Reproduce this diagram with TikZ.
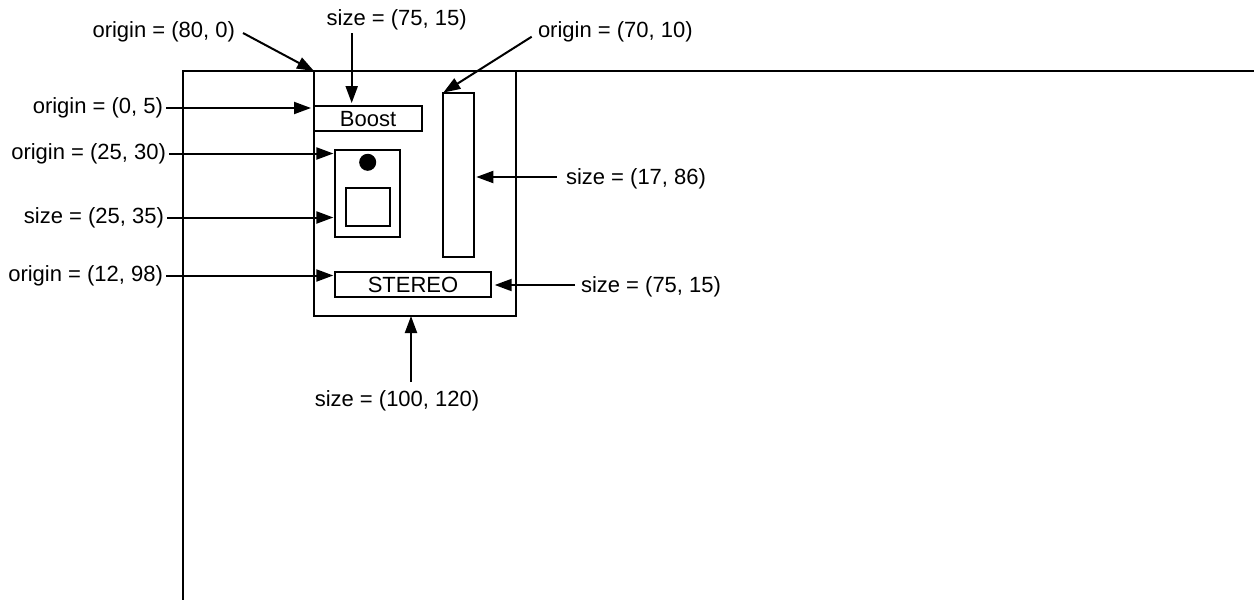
\documentclass[tikz,border=0pt]{standalone}
\usepackage{fontspec}
\setmainfont{Liberation Sans}
\usetikzlibrary{arrows.meta}
\begin{document}
\begin{tikzpicture}[x=0.5pt,y=-0.5pt,line width=1pt,
  box/.style={draw,rectangle,inner sep=0pt,outer sep=0pt,font=\fontsize{11}{13}\selectfont},
  lbl/.style={inner xsep=1.5pt,inner ysep=0pt,outer sep=0pt,font=\fontsize{11}{13}\selectfont},
  arr/.style={-{Triangle[length=8.5pt,width=6pt]}}]
\useasboundingbox (0,0) rectangle (1254,600);
% outer frame
\coordinate (fbl) at (183,600);
\coordinate (ftl) at (183,71);
\coordinate (ftr) at (1254,71);
\draw (fbl) -- (ftl) -- (ftr);
% boxes
\node[box,minimum width=101pt,minimum height=122.5pt] (main) at (415,193.5) {};
\node[box,minimum width=54pt,minimum height=12.5pt] (boost) at (368,118.6) {Boost};
\node[box,minimum width=15.5pt,minimum height=82.2pt] (bar) at (458.8,174.8) {};
\node[box,minimum width=32.3pt,minimum height=43.3pt] (panel) at (367.7,193.7) {};
\node[draw,fill,circle,inner sep=0pt,minimum size=7.5pt] (dot) at (367.7,162.3) {};
\node[box,minimum width=22pt,minimum height=19pt] (sq) at (367.7,206.7) {};
\node[box,minimum width=77.7pt,minimum height=12.7pt] (stereo) at (413,284.6) {STEREO};
% labels
\node[lbl,anchor=east] (l1) at (238,31.5) {origin = (80, 0)};
\node[lbl] (l2) at (396.7,19.5) {size = (75, 15)};
\node[lbl,anchor=west] (l3) at (535,31.5) {origin = (70, 10)};
\node[lbl,anchor=east] (l4) at (166,108) {origin = (0, 5)};
\node[lbl,anchor=east] (l5) at (169,153.5) {origin = (25, 30)};
\node[lbl,anchor=east] (l6) at (167,217.5) {size = (25, 35)};
\node[lbl,anchor=east] (l7) at (166,275.5) {origin = (12, 98)};
\node[lbl,anchor=west] (l8) at (563,178.5) {size = (17, 86)};
\node[lbl,anchor=west] (l9) at (578,286.5) {size = (75, 15)};
\node[lbl] (l10) at (397,401) {size = (100, 120)};
% connector tails
\coordinate (t1) at (243,33);
\coordinate (t2) at (351.7,33);
\coordinate (t3) at (531.7,36.7);
\coordinate (t8) at (556.7,177);
\coordinate (t9) at (575,285);
\coordinate (t10) at (411,382);
% connectors
\draw[arr] (t1) -- (main.north west);
\draw[arr,shorten >=1.5pt] (t2) -- (t2 |- boost.north);
\draw[arr] (t3) -- (bar.north west);
\draw[arr,shorten >=1.5pt] (l4.east) -- (l4.east -| main.west);
\draw[arr,shorten >=1pt] (l5.east) -- (l5.east -| panel.west);
\draw[arr,shorten >=1pt] (l6.east) -- (l6.east -| panel.west);
\draw[arr,shorten >=1pt] (l7.east) -- (l7.east -| stereo.west);
\draw[arr,shorten >=1pt] (t8) -- (t8 -| bar.east);
\draw[arr,shorten >=2pt] (t9) -- (t9 -| stereo.east);
\draw[arr] (t10) -- (t10 |- main.south);
\end{tikzpicture}
\end{document}
